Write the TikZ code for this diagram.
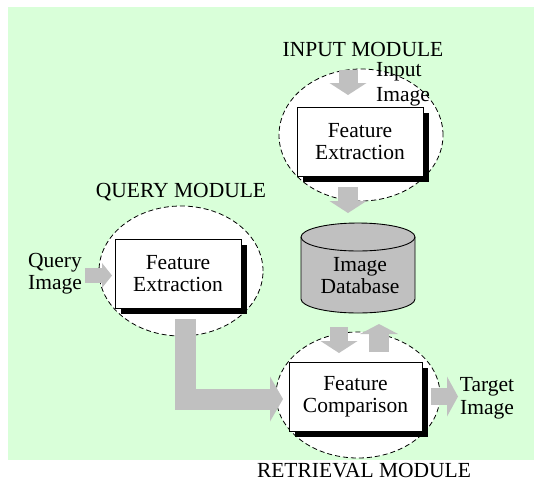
\documentclass[tikz,border=0pt]{standalone}
\usepackage{fontspec}
\setmainfont{Liberation Serif}
\usetikzlibrary{arrows.meta,shapes.geometric,shadows}

\definecolor{bggreen}{RGB}{217,255,217}
\definecolor{arrowgray}{RGB}{192,192,192}
\definecolor{dbgray}{RGB}{192,192,192}

\tikzset{
  txt/.style={font=\fontsize{21.5}{22.5}\selectfont, inner sep=0pt},
  modellipse/.style={ellipse, draw=black, fill=white, line width=0.8pt,
    dash pattern=on 5pt off 3pt, inner sep=0pt},
  febox/.style={txt, draw=black, fill=white, line width=0.9pt, align=center,
    drop shadow={shadow xshift=5.5pt, shadow yshift=-5.5pt, fill=black, opacity=1}},
  blockarrow/.style args={#1/#2/#3}{draw=arrowgray, line width=#1, line join=miter,
    -{Triangle[width=#2, length=#3, line width=0pt]}}
}

\begin{document}
\begin{tikzpicture}[x=1pt, y=-1pt]
\useasboundingbox (0,0) rectangle (534,482);

% background panel
\fill[bggreen] (8,7) rectangle (534,460);

% dashed module outlines
\node[modellipse, minimum width=164pt, minimum height=132pt] (inEll) at (361,135) {};
\node[modellipse, minimum width=164pt, minimum height=130pt] (qEll) at (181,271) {};
\node[modellipse, minimum width=164pt, minimum height=126pt] (rEll) at (358,395) {};

% processing boxes
\node[febox, minimum width=126pt, minimum height=69pt] (inFE) at (360,141.5) {Feature\\Extraction};
\node[febox, minimum width=126pt, minimum height=69pt] (qFE) at (178,273.5) {Feature\\Extraction};
\node[febox, minimum width=133pt, minimum height=69pt] (fc) at (355.5,396.5) {Feature\\Comparison};

% image database cylinder
\filldraw[fill=dbgray, draw=black, line width=0.9pt]
  (301,237) -- (301,299) arc[start angle=180, end angle=360, x radius=57pt, y radius=14pt]
  -- (415,237) arc[start angle=0, end angle=180, x radius=57pt, y radius=14pt] -- cycle;
\draw[line width=0.9pt] (301,237) arc[start angle=180, end angle=360, x radius=57pt, y radius=14pt];
\node[txt, align=center] (db) at (360,275.5) {Image\\Database};

% arrow end points
\coordinate (inSrc) at (348,70);   \coordinate (inDst) at (348,95);
\coordinate (feSrc) at (348,187);  \coordinate (feDst) at (348,213);
\coordinate (dnSrc) at (339,327);  \coordinate (dnDst) at (339,353);
\coordinate (upSrc) at (379,352);  \coordinate (upDst) at (379,324);
\coordinate (qSrc) at (85,275.5);  \coordinate (qDst) at (112,275.5);
\coordinate (lSrc) at (185,319);   \coordinate (lDst) at (283,399);
\coordinate (tSrc) at (431,396.5); \coordinate (tDst) at (458,396.5);

% block arrows
\draw[blockarrow={19pt/37pt/12pt}] (inSrc) -- (inDst);
\draw[blockarrow={20pt/37pt/12pt}] (feSrc) -- (feDst);
\draw[blockarrow={18pt/37pt/12pt}] (dnSrc) -- (dnDst);
\draw[blockarrow={20pt/38pt/10pt}] (upSrc) -- (upDst);
\draw[blockarrow={15pt/25pt/10pt}] (qSrc) -- (qDst);
\draw[blockarrow={21pt/45pt/13pt}] (lSrc) |- (lDst);
\draw[blockarrow={17pt/40pt/11pt}] (tSrc) -- (tDst);

% labels
\node[txt, anchor=base] (inLbl) at (363,56) {INPUT MODULE};
\node[txt, anchor=base] (qLbl) at (181,197) {QUERY MODULE};
\node[txt, anchor=base] (rLbl) at (364,477) {RETRIEVAL MODULE};
\node[txt, align=left, anchor=west, font=\fontsize{21.5}{25}\selectfont] (inImg) at (376,84.5) {Input\\Image};
\node[txt, align=center] (qImg) at (55,273.5) {Query\\Image};
\node[txt, align=center] (tImg) at (487,398.5) {Target\\Image};
\end{tikzpicture}
\end{document}
